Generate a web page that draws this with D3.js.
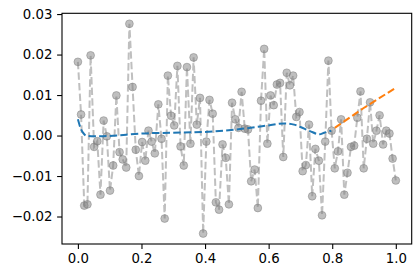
<!DOCTYPE html>
<html><head><meta charset="utf-8">
<script src="https://cdn.jsdelivr.net/npm/d3@7"></script>
<style>
html,body{margin:0;padding:0;background:#fff;}
svg{display:block;}
text{font-family:"DejaVu Sans",sans-serif;}
</style></head>
<body><svg id="chart" width="420" height="278"></svg>
<script>
// observed samples
const sampleX = [0,.010,.020,.030,.040,.051,.061,.071,.081,.091,.101,.111,.121,.131,.141,.152,.162,.172,.182,.192,
.202,.212,.222,.232,.242,.253,.263,.273,.283,.293,.303,.313,.323,.333,.343,.354,.364,.374,.384,.394,
.404,.414,.424,.434,.444,.455,.465,.475,.485,.495,.505,.515,.525,.535,.545,.556,.566,.576,.586,.596,
.606,.616,.626,.636,.646,.657,.667,.677,.687,.697,.707,.717,.727,.737,.747,.758,.768,.778,.788,.798,
.808,.818,.828,.838,.848,.859,.869,.879,.889,.899,.909,.919,.929,.939,.949,.960,.970,.980,.990,1.000];
const sampleY = [0.0182,0.0052,-0.0173,-0.0170,0.0198,-0.0028,-0.0014,-0.0146,0.0037,-0.0002,
-0.0136,-0.0074,0.0099,-0.0041,-0.0059,-0.0079,0.0276,0.0120,-0.0035,-0.0100,
-0.0016,-0.0062,0.0012,-0.0015,-0.0044,0.0077,-0.0008,-0.0205,0.0148,0.0049,
0.0025,0.0172,-0.0027,-0.0074,0.0169,-0.0020,0.0193,0.0027,0.0093,-0.0242,
-0.0015,0.0088,0.0054,-0.0165,-0.0183,-0.0022,-0.0055,-0.0170,0.0081,0.0040,
0.0019,0.0108,0.0017,0.0015,-0.0113,-0.0084,-0.0179,0.0086,0.0214,-0.0020,
0.0099,0.0075,0.0126,0.0130,-0.0053,0.0155,0.0124,0.0148,0.0046,0.0058,
-0.0088,-0.0073,0.0027,-0.0150,-0.0033,-0.0062,-0.0197,-0.0015,0.0185,0.0012,
-0.0081,-0.0039,0.0040,-0.0146,-0.0092,-0.0028,-0.0025,0.0044,0.0109,-0.0081,
-0.0008,0.0082,-0.0020,0.0012,0.0050,-0.0022,0.0012,0.0005,-0.0057,-0.0111];
// smoothed trend (blue)
const trendX = [0,0.01,0.02,0.03,0.05,0.1,0.2,0.3,0.4,0.5,0.55,0.6,0.65,0.68,0.7,0.73,0.76,0.775,0.797];
const trendY = [0.0040,0.0015,0.0003,-0.0001,-0.0002,-0.0001,0.0005,0.0007,0.0009,0.0015,0.0020,0.0025,0.0030,0.0027,0.0021,0.0011,0.0003,0.0007,0.0012];
// forecast (orange)
const forecastX = [0.808,0.899,1.0];
const forecastY = [0.0019,0.0068,0.0118];
const xTicks = [0,0.2,0.4,0.6,0.8,1.0];
const yTicks = [-0.02,-0.01,0,0.01,0.02,0.03];

const svg = d3.select("#chart");
const L=62, R=411.7, T=13.3, B=244;
const xs = d3.scaleLinear().domain([-0.05,1.05]).range([L,R]);
const ymin=d3.min(sampleY), ymax=d3.max(sampleY), pad=(ymax-ymin)*0.05;
const ys = d3.scaleLinear().domain([ymin-pad,ymax+pad]).range([B,T]);

const pts = sampleX.map((x,i)=>[x,sampleY[i]]);
const line = d3.line().x(d=>xs(d[0])).y(d=>ys(d[1]));

svg.append("path").datum(pts).attr("d",line)
  .attr("fill","none").attr("stroke","rgba(128,128,128,0.5)")
  .attr("stroke-width",2).attr("stroke-dasharray","7.4,3.2");
svg.append("g").selectAll("circle").data(pts).join("circle")
  .attr("cx",d=>xs(d[0])).attr("cy",d=>ys(d[1])).attr("r",3.9)
  .attr("fill","rgba(128,128,128,0.5)").attr("stroke","rgba(128,128,128,0.5)").attr("stroke-width",1);

const tline = d3.line().x(d=>xs(d[0])).y(d=>ys(d[1])).curve(d3.curveMonotoneX);
svg.append("path").datum(trendX.map((x,i)=>[x,trendY[i]])).attr("d",tline)
  .attr("fill","none").attr("stroke","#1f77b4").attr("stroke-width",2)
  .attr("stroke-dasharray","7.4,3.2");
svg.append("path").datum(forecastX.map((x,i)=>[x,forecastY[i]])).attr("d",line)
  .attr("fill","none").attr("stroke","#ff7f0e").attr("stroke-width",2)
  .attr("stroke-dasharray","7.4,3.2");

svg.append("rect").attr("x",L).attr("y",T).attr("width",R-L).attr("height",B-T)
  .attr("fill","none").attr("stroke","#000").attr("stroke-width",1.1);

const fmtY = d3.format(".2f");
const gx = svg.append("g").attr("transform",`translate(0,${B})`)
  .call(d3.axisBottom(xs).tickValues(xTicks).tickFormat(d3.format(".1f")).tickSize(4.9).tickPadding(4.7));
const gy = svg.append("g").attr("transform",`translate(${L},0)`)
  .call(d3.axisLeft(ys).tickValues(yTicks).tickFormat(fmtY).tickSize(4.9).tickPadding(4.7));
[gx,gy].forEach(g=>{
  g.select(".domain").remove();
  g.selectAll(".tick line").attr("stroke","#000").attr("stroke-width",1.1);
  g.selectAll(".tick text").attr("fill","#000").style("font-size","13.3px").style("font-family","DejaVu Sans");
});
</script></body></html>
